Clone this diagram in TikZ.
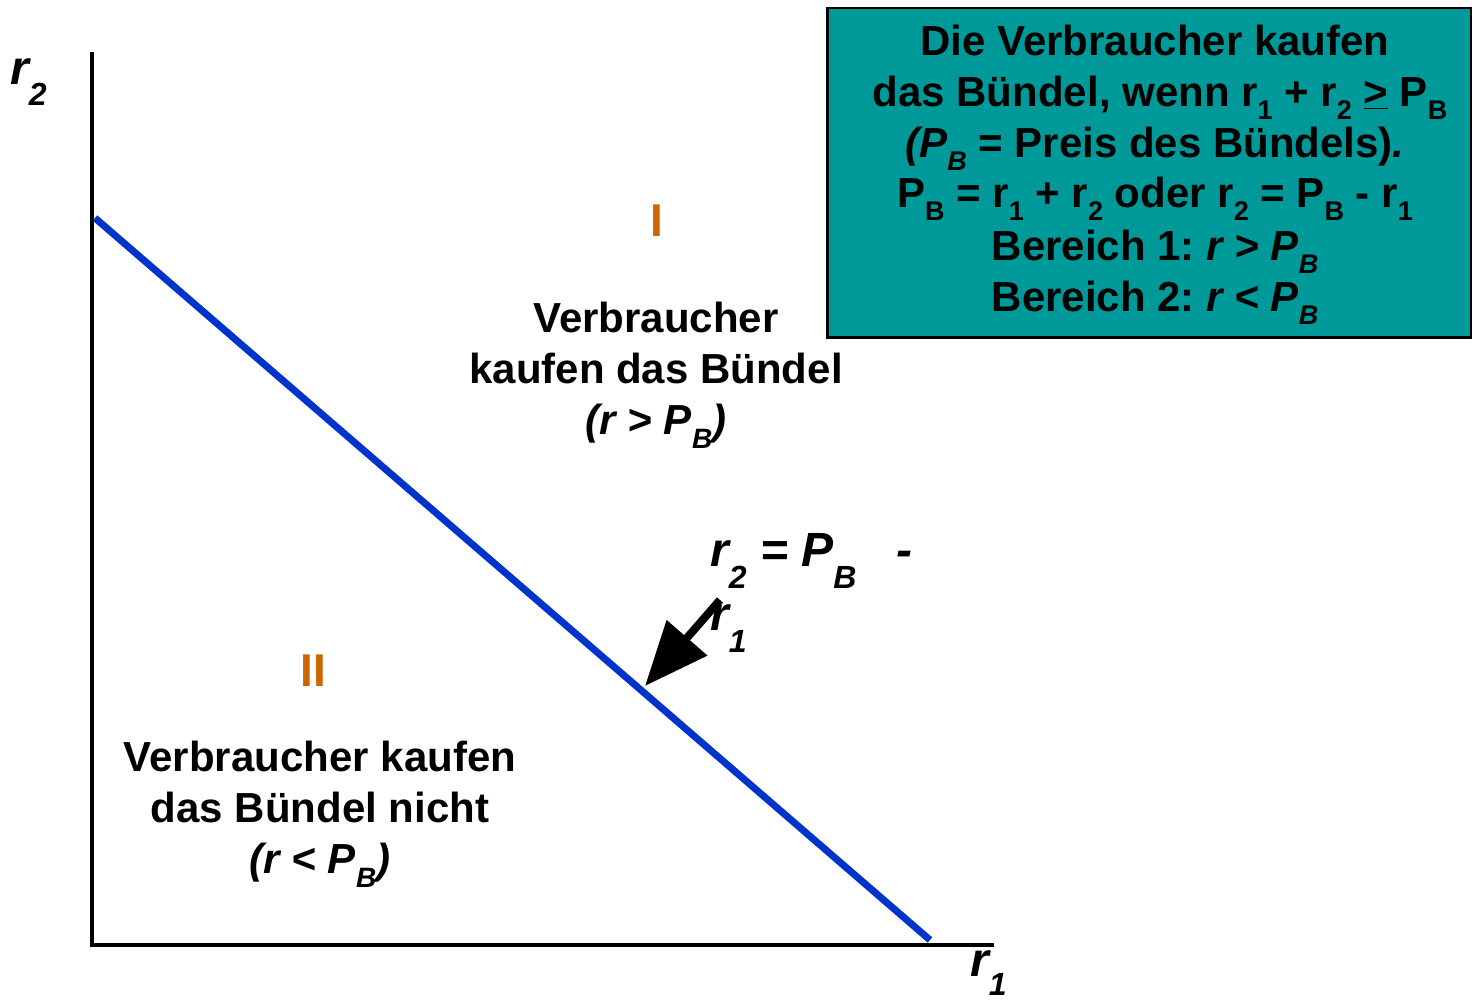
\documentclass[tikz,border=0pt]{standalone}
\usepackage{fontspec}
\setmainfont{Liberation Sans}
\usetikzlibrary{arrows.meta}
\definecolor{tealbox}{RGB}{0,153,153}
\definecolor{lineblue}{RGB}{0,51,204}
\definecolor{regionor}{RGB}{204,102,0}
\newcommand\lsub[3]{\smash{\raisebox{-#1pt}{\fontsize{#2}{#2}\selectfont #3}}}
\newcommand\bs[1]{\lsub{13}{27}{#1}}
\frenchspacing
\begin{document}
\begin{tikzpicture}[x=1pt,y=-1pt,
  axis/.style={line width=4.5pt, line cap=rect},
  budget/.style={line width=7pt, draw=lineblue},
  pointer/.style={line width=8pt, -{Triangle[length=64pt,width=52pt]}},
  bodytxt/.style={font=\fontsize{42}{50}\selectfont\bfseries, anchor=base, inner sep=0pt},
  boxtxt/.style={font=\fontsize{42}{50}\selectfont\bfseries, anchor=base, inner sep=0pt},
  axlbl/.style={font=\fontsize{48}{50}\selectfont\bfseries\itshape, anchor=base west, inner sep=0pt},
  roman/.style={font=\fontsize{46}{50}\selectfont\bfseries, text=regionor, anchor=base, inner sep=0pt},
  panel/.style={draw=black, line width=2.5pt, fill=tealbox, anchor=north west, inner sep=0pt}
]
\useasboundingbox (0,0) rectangle (1472,1000);

% axes
\coordinate (origin) at (92,945);
\coordinate (ytop) at (92,54);
\coordinate (xend) at (992,945);
\draw[axis] (ytop) -- (origin) -- (xend);
\node[axlbl] (r2lbl) at (10,85) {r\lsub{21}{32}{2}};
\node[axlbl] (r1lbl) at (970,976) {r\lsub{19}{32}{1}};

% budget line
\coordinate (bl1) at (95,218);
\coordinate (bl2) at (930,940);
\draw[budget] (bl1) -- (bl2);

% region labels
\node[roman] (regI) at (657,237) {I};
\node[roman] (regII) at (313,686) {II};

\node[bodytxt] (t1a) at (656,332) {Verbraucher};
\node[bodytxt] (t1b) at (656,383) {kaufen das Bündel};
\node[bodytxt] (t1c) at (656,434) {\itshape (r > P\lsub{14}{28}{B})};

\node[bodytxt] (t2a) at (320,771) {Verbraucher kaufen};
\node[bodytxt] (t2b) at (320,822) {das Bündel nicht};
\node[bodytxt] (t2c) at (320,873) {\itshape (r < P\lsub{14}{28}{B})};

% equation label with arrow
\node[axlbl] (eq1) at (710,566) {r\lsub{22}{32}{2} = P\lsub{22}{32}{B}\hspace{40pt}-};
\node[axlbl] (eq2) at (710,630) {r\lsub{22}{32}{1}};
\coordinate (arrS) at (720,600);
\coordinate (arrE) at (645,686);
\draw[pointer] (arrS) -- (arrE);

% info panel
\node[panel, minimum width=644pt, minimum height=329pt] (panel) at (826,7) {};
\node[boxtxt] (p1) at (1155,56) {Die Verbraucher kaufen};
\node[boxtxt] (p2) at (1160,107) {das Bündel, wenn r\bs{1} + r\bs{2} \underline{>} P\bs{B}};
\node[boxtxt] (p3) at (1155,158) {{\itshape (P\bs{B}} = Preis des Bündels){\itshape .}};
\node[boxtxt] (p4) at (1155,208) {P\bs{B} = r\bs{1} + r\bs{2} oder r\bs{2} = P\bs{B} - r\bs{1}};
\node[boxtxt] (p5) at (1155,261) {Bereich 1: {\itshape r > P\bs{B}}};
\node[boxtxt] (p6) at (1155,312) {Bereich 2: {\itshape r < P\bs{B}}};
\end{tikzpicture}
\end{document}
